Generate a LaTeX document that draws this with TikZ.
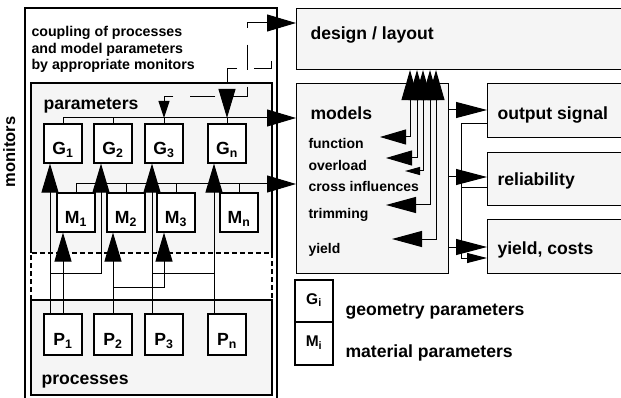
\documentclass[tikz,border=0pt]{standalone}
\usepackage{fontspec}
\setmainfont{Liberation Sans}
\usetikzlibrary{arrows.meta}
\definecolor{boxfill}{RGB}{245,245,245}
\tikzset{
  bigtip/.tip={Triangle[length=29pt,width=17pt]},
  uptip/.tip={Triangle[length=30pt,width=17pt]},
  rtip/.tip={Triangle[length=31pt,width=16pt]},
  ltipA/.tip={Triangle[length=26pt,width=15pt]},
  ltipB/.tip={Triangle[length=30pt,width=16pt]},
  ltipS/.tip={Triangle[length=15pt,width=8pt]},
  midtip/.tip={Triangle[length=17pt,width=11pt]},
  smtip/.tip={Triangle[length=20pt,width=10pt]},
}
\begin{document}
\begin{tikzpicture}[x=1pt,y=-1pt,line width=1pt,
  cell/.style={draw, line width=1.1pt, fill=white, inner sep=0pt, minimum width=38pt, font=\bfseries\fontsize{17.6}{20}\selectfont, text height=22pt, text depth=0pt},
  legcell/.style={draw, line width=1.1pt, fill=white, inner sep=0pt, minimum width=38pt, font=\bfseries\fontsize{15.5}{17}\selectfont, text height=6pt, text depth=0pt},
  frame/.style={draw, line width=1.1pt, fill=boxfill, inner sep=0pt, anchor=north west},
  bigtext/.style={font=\bfseries\fontsize{17.6}{20}\selectfont, inner sep=0pt, anchor=base west},
  smalltext/.style={font=\bfseries\fontsize{14}{16}\selectfont, inner sep=0pt, anchor=base west},
  dashline/.style={dash pattern=on 25pt off 17pt},
]
\clip (0,0) rectangle (621,398);

% ---- left part: monitors frame, parameters, processes
\draw[line width=1.1pt] (25,398) -- (25,8) -- (277,8) -- (277,398);
\fill[boxfill] (31,83) rectangle (272,253);
\draw[line width=1.1pt] (31,253) -- (31,83) -- (272,83) -- (272,253);
\draw[line width=1.1pt, dash pattern=on 5pt off 3pt] (31,300) -- (31,253) -- (272,253) -- (272,300);
\fill[boxfill] (31,300) rectangle (272,395);
\draw[line width=1.1pt] (31,300) rectangle (272,395);

\node[bigtext, rotate=90, anchor=base, font=\bfseries\fontsize{16.5}{18}\selectfont] (monitors) at (15,152) {monitors};
\node[smalltext, font=\bfseries\fontsize{14.2}{16}\selectfont] (cp1) at (31,36.5) {coupling of processes};
\node[smalltext, font=\bfseries\fontsize{14.2}{16}\selectfont] (cp2) at (31,53.5) {and model parameters};
\node[smalltext, font=\bfseries\fontsize{14.2}{16}\selectfont] (cp3) at (31,70) {by appropriate monitors};
\node[bigtext] (partxt) at (43,110) {parameters};
\node[bigtext] (proctxt) at (41,384.5) {processes};

\node[cell, minimum height=39pt] (G1) at (63,143.5) {G\textsubscript{1}};
\node[cell, minimum height=39pt] (G2) at (113,143.5) {G\textsubscript{2}};
\node[cell, minimum height=39pt] (G3) at (164,143.5) {G\textsubscript{3}};
\node[cell, minimum height=39pt] (Gn) at (227,143.5) {G\textsubscript{n}};
\node[cell, minimum height=39pt] (M1) at (76,212.5) {M\textsubscript{1}};
\node[cell, minimum height=39pt] (M2) at (126,212.5) {M\textsubscript{2}};
\node[cell, minimum height=39pt] (M3) at (176,212.5) {M\textsubscript{3}};
\node[cell, minimum height=39pt] (Mn) at (239,212.5) {M\textsubscript{n}};
\node[cell, minimum height=41pt] (P1) at (63,334.5) {P\textsubscript{1}};
\node[cell, minimum height=41pt] (P2) at (113,334.5) {P\textsubscript{2}};
\node[cell, minimum height=41pt] (P3) at (164,334.5) {P\textsubscript{3}};
\node[cell, minimum height=41pt] (Pn) at (227,334.5) {P\textsubscript{n}};

% ---- right part
\node[frame, minimum width=335pt, minimum height=61pt] (design) at (296,8) {};
\node[frame, minimum width=152pt, minimum height=190pt] (models) at (296,83) {};
\node[frame, minimum width=140pt, minimum height=54pt] (output) at (487,83) {};
\node[frame, minimum width=140pt, minimum height=53pt] (reliab) at (487,152) {};
\node[frame, minimum width=140pt, minimum height=54pt] (yieldc) at (487,219) {};

\node[bigtext] (designtxt) at (310,39.5) {design / layout};
\node[bigtext] (modelstxt) at (310,120) {models};
\node[bigtext] (outputtxt) at (497,119.5) {output signal};
\node[bigtext] (reliabtxt) at (497,185.8) {reliability};
\node[bigtext] (yieldtxt) at (497,254.5) {yield, costs};
\node[smalltext] (ftxt) at (308,148.5) {function};
\node[smalltext] (otxt) at (308,171) {overload};
\node[smalltext] (ctxt) at (308,192) {cross influences};
\node[smalltext] (ttxt) at (308,218.5) {trimming};
\node[smalltext] (ytxt) at (308,253) {yield};

% legend
\node[legcell, minimum height=42pt] (Gi) at (314,301) {G\textsubscript{i}};
\node[legcell, minimum height=43pt] (Mi) at (314,343.5) {M\textsubscript{i}};
\node[bigtext] (geotxt) at (345,315.5) {geometry parameters};
\node[bigtext] (mattxt) at (345,357.5) {material parameters};

% ---- buses
\coordinate (gb) at (0,118);
\coordinate (mb) at (0,184);
\draw[-bigtip] (G1.north) |- (models.west |- gb);
\draw (G2.north) -- (G2.north |- gb);
\draw (G3.north) -- (G3.north |- gb);
\draw (Gn.north) -- (Gn.north |- gb);
\draw[-bigtip] (M1.north) |- (models.west |- mb);
\draw (M2.north) -- (M2.north |- mb);
\draw (M3.north) -- (M3.north |- mb);
\draw (Mn.north) -- (Mn.north |- mb);

% ---- processes to parameters
\coordinate (j1) at (50,273);
\coordinate (j2) at (113,287);
\coordinate (j3) at (152,273);
\draw[-bigtip] ([xshift=-13pt]P1.north) -- ([xshift=-13pt]G1.south);
\draw[-bigtip] (P1.north) -- (P1.north |- M1.south);
\draw[-bigtip] (j1) -| ([xshift=-12pt]G2.south);
\draw[-bigtip] (P2.north) -- (P2.north |- M2.south);
\draw[-bigtip] (j2) -| ([xshift=-12pt]M3.south);
\draw[-bigtip] ([xshift=-12pt]P3.north) -- ([xshift=-12pt]G3.south);
\draw[-bigtip] (j3) -| ([xshift=-13pt]Gn.south);
\draw ([xshift=-13pt]Pn.north) -- ([xshift=-13pt]Pn.north |- j3);

% ---- dashed monitor feedback
\coordinate (d1) at (247,23);
\coordinate (d2) at (247,97);
\coordinate (d3) at (164,97);
\draw[dashline, bigtip-midtip] (design.west |- d1) -- (d1) -- (d2) -- (d3) -- (G3.north |- gb);
\coordinate (e1) at (271,61);
\coordinate (e2) at (271,69);
\draw[dashline, -bigtip] (e1) -- (e2) -- (e2 -| Gn.north) -- (Gn.north |- gb);

% ---- models <-> design
\coordinate (k1) at (410,137);  \coordinate (f1) at (380,137);
\coordinate (k2) at (417,158);  \coordinate (f2) at (386,158);
\coordinate (k3) at (423,171);  \coordinate (f3) at (405,171);
\coordinate (k4) at (430,205);  \coordinate (f4) at (386,205);
\coordinate (k5) at (436,239);  \coordinate (f5) at (392,239);
\draw[ltipA-uptip] (f1) -- (k1) -- (k1 |- design.south);
\draw[ltipA-uptip] (f2) -- (k2) -- (k2 |- design.south);
\draw[ltipS-uptip] (f3) -- (k3) -- (k3 |- design.south);
\draw[ltipB-uptip] (f4) -- (k4) -- (k4 |- design.south);
\draw[ltipB-uptip] (f5) -- (k5) -- (k5 |- design.south);

% ---- models to results
\coordinate (o1) at (0,110);
\coordinate (o2) at (0,177);
\coordinate (o3) at (0,247);
\draw[-rtip] (models.east |- o1) -- (output.west |- o1);
\draw[-rtip] (models.east |- o2) -- (reliab.west |- o2);
\draw[-rtip] (models.east |- o3) -- (yieldc.west |- o3);
\coordinate (q1) at (461,124);
\coordinate (q2) at (461,258);
\coordinate (q3) at (461,188);
\draw[-smtip] (output.west |- q1) -- (q1) -- (q2) -- (yieldc.west |- q2);
\draw (reliab.west |- q3) -- (q3);
\end{tikzpicture}
\end{document}
